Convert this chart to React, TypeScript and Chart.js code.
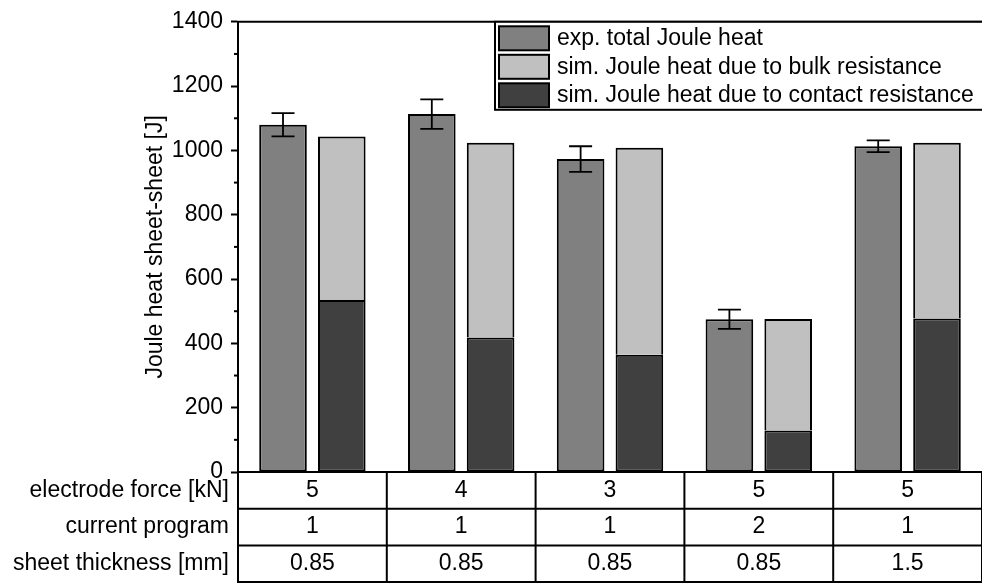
import React, { useEffect, useRef } from "react";
import { Chart, registerables } from "chart.js";
Chart.register(...registerables);

const FONT = "'Liberation Sans', Arial, Helvetica, sans-serif";
const FS = 23;

// Table rows under the x axis (one entry per category)
const electrodeForce = ["5", "4", "3", "5", "5"];
const currentProgram = ["1", "1", "1", "2", "1"];
const sheetThickness = ["0.85", "0.85", "0.85", "0.85", "1.5"];
const rowHeaders = ["electrode force [kN]", "current program", "sheet thickness [mm]"];

// Series values [J]
const expTotal = [1080, 1113, 973, 475, 1013];
const expError = [36, 46, 40, 30, 18];
const simContact = [535, 418, 365, 129, 477];
const simBulk = [508, 606, 643, 347, 547];

const seriesNames = [
  "exp. total Joule heat",
  "sim. Joule heat due to bulk resistance",
  "sim. Joule heat due to contact resistance",
];

const yMin = 0;
const yMax = 1400;
const yMinorStep = 100;
const yMajorStep = 200;

const COL_EXP = "#808080";
const COL_BULK = "#c0c0c0";
const COL_CONTACT = "#404040";

const ROW_H = 36.7;
const LINE_W = 2;

const framePlugin = {
  id: "frameTable",
  afterDraw(chart: any) {
    const { ctx, chartArea } = chart;
    const xs = chart.scales.x;
    const ys = chart.scales.y;
    ctx.save();
    ctx.strokeStyle = "#000";
    ctx.lineWidth = LINE_W;
    // top frame line
    ctx.beginPath();
    ctx.moveTo(chartArea.left - 1, chartArea.top);
    ctx.lineTo(chartArea.right, chartArea.top);
    ctx.stroke();
    // minor ticks
    ys.ticks.forEach((t: any) => {
      if (t.value % yMajorStep !== 0) {
        const py = ys.getPixelForValue(t.value);
        ctx.beginPath();
        ctx.moveTo(chartArea.left - 4, py);
        ctx.lineTo(chartArea.left, py);
        ctx.stroke();
      }
    });
    // table lines
    const n = xs.ticks.length;
    const tableBottom = chartArea.bottom + ROW_H * 3;
    for (let r = 1; r <= 3; r++) {
      const py = chartArea.bottom + ROW_H * r;
      ctx.beginPath();
      ctx.moveTo(chartArea.left - 1, py);
      ctx.lineTo(chartArea.right, py);
      ctx.stroke();
    }
    for (let i = 0; i <= n; i++) {
      const px = xs.getPixelForValue(i - 0.5);
      ctx.beginPath();
      ctx.moveTo(px, chartArea.bottom);
      ctx.lineTo(px, tableBottom);
      ctx.stroke();
    }
    // row headers
    ctx.fillStyle = "#000";
    ctx.font = `${FS}px ${FONT}`;
    ctx.textAlign = "right";
    ctx.textBaseline = "middle";
    rowHeaders.forEach((h, r) => {
      ctx.fillText(h, chartArea.left - 9, chartArea.bottom + ROW_H * (r + 0.5));
    });

    // legend
    const lx = chartArea.left + 257;
    const ly = chartArea.top;
    const lw = chartArea.right - lx + 5;
    const lh = 88;
    ctx.fillStyle = "#fff";
    ctx.fillRect(lx, ly, lw, lh);
    ctx.strokeRect(lx, ly, lw, lh);
    const colors = [COL_EXP, COL_BULK, COL_CONTACT];
    seriesNames.forEach((name, i) => {
      const by = ly + 4.5 + i * 28.5;
      ctx.fillStyle = colors[i];
      ctx.fillRect(lx + 4, by, 50, 24);
      ctx.strokeRect(lx + 4, by, 50, 24);
      ctx.fillStyle = "#000";
      ctx.textAlign = "left";
      ctx.fillText(name, lx + 62, by + 12.5);
    });
    ctx.restore();
  },
};

const errorBarPlugin = {
  id: "errorBars",
  afterDatasetsDraw(chart: any) {
    const { ctx } = chart;
    const ys = chart.scales.y;
    const meta = chart.getDatasetMeta(0);
    ctx.save();
    ctx.strokeStyle = "#000";
    ctx.lineWidth = 1.8;
    meta.data.forEach((bar: any, i: number) => {
      const x = bar.x;
      const yTop = ys.getPixelForValue(expTotal[i] + expError[i]);
      const yBot = ys.getPixelForValue(expTotal[i] - expError[i]);
      const cap = 11.5;
      ctx.beginPath();
      ctx.moveTo(x, yTop);
      ctx.lineTo(x, yBot);
      ctx.moveTo(x - cap, yTop);
      ctx.lineTo(x + cap, yTop);
      ctx.moveTo(x - cap, yBot);
      ctx.lineTo(x + cap, yBot);
      ctx.stroke();
    });
    ctx.restore();
  },
};

export default function App() {
  const ref = useRef<HTMLCanvasElement | null>(null);
  useEffect(() => {
    document.body.style.margin = "0";
    const canvas = ref.current;
    if (!canvas) return;
    const labels = electrodeForce.map((f, i) => [f, currentProgram[i], sheetThickness[i]]);
    const barCommon = {
      borderColor: "#000",
      borderSkipped: false as const,
      categoryPercentage: 0.79,
      barPercentage: 0.81,
    };
    const chart = new Chart(canvas, {
      type: "bar",
      data: {
        labels,
        datasets: [
          { label: seriesNames[0], data: expTotal, backgroundColor: COL_EXP, stack: "exp", borderWidth: 2, ...barCommon },
          { label: seriesNames[2], data: simContact, backgroundColor: COL_CONTACT, stack: "sim", borderWidth: 2, ...barCommon },
          {
            label: seriesNames[1],
            data: simBulk,
            backgroundColor: COL_BULK,
            stack: "sim",
            borderWidth: { top: 2, left: 2, right: 2, bottom: 0 },
            ...barCommon,
          },
        ],
      },
      options: {
        responsive: false,
        devicePixelRatio: 1,
        animation: false,
        layout: { padding: { top: 19, right: -1, bottom: 1, left: 0 } },
        plugins: {
          legend: { display: false },
          tooltip: { enabled: false },
        },
        scales: {
          x: {
            stacked: true,
            grid: { display: false, drawTicks: false },
            border: { display: true, color: "#000", width: LINE_W },
            ticks: {
              color: "#000",
              font: { family: FONT, size: FS, lineHeight: ROW_H / FS },
              padding: 0,
              maxRotation: 0,
              autoSkip: false,
            },
            afterFit(scale: any) {
              scale.height = 110;
            },
          },
          y: {
            stacked: true,
            min: yMin,
            max: yMax,
            grid: {
              display: true,
              drawOnChartArea: false,
              tickLength: 7,
              tickWidth: LINE_W,
              tickColor: (c: any) => (c.tick && c.tick.value % yMajorStep === 0 ? "#000" : "rgba(0,0,0,0)"),
            },
            border: { display: true, color: "#000", width: LINE_W },
            ticks: {
              stepSize: yMinorStep,
              autoSkip: false,
              color: "#000",
              padding: 8,
              font: { family: FONT, size: FS },
              callback: (v: any) => (Number(v) % yMajorStep === 0 ? String(v) : ""),
            },
            title: {
              display: true,
              text: "Joule heat sheet-sheet [J]",
              color: "#000",
              font: { family: FONT, size: FS },
              padding: { top: 142, bottom: 0 },
            },
            afterFit(scale: any) {
              scale.width = 238;
            },
          },
        },
      },
      plugins: [errorBarPlugin, framePlugin],
    });
    return () => chart.destroy();
  }, []);
  return <canvas ref={ref} width={982} height={583} style={{ display: "block" }} />;
}
